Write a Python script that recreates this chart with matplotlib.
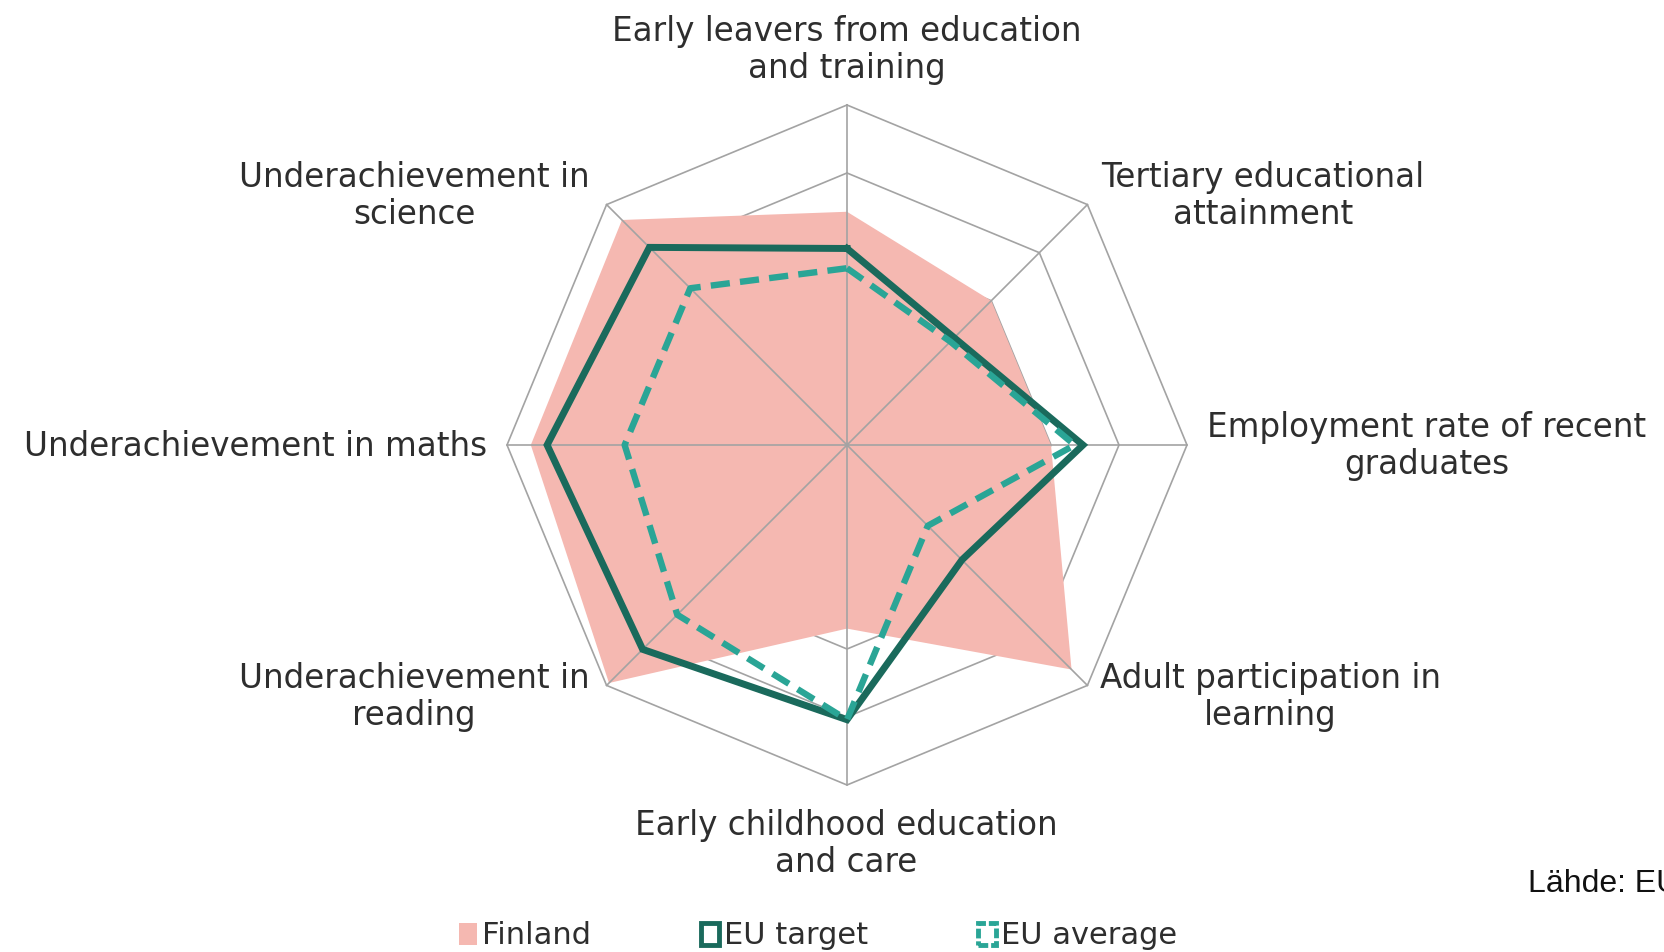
import numpy as np
import matplotlib
matplotlib.use("Agg")
import matplotlib.pyplot as plt
from matplotlib.patches import Patch

categories = [
    "Early leavers from education\nand training",
    "Tertiary educational\nattainment",
    "Employment rate of recent\ngraduates",
    "Adult participation in\nlearning",
    "Early childhood education\nand care",
    "Underachievement in\nreading",
    "Underachievement in maths",
    "Underachievement in\nscience",
]
finland = [3.43, 3.0, 3.0, 4.67, 2.7, 4.95, 4.65, 4.68]
eu_target = [2.89, 2.23, 3.47, 2.39, 4.04, 4.25, 4.41, 4.11]
eu_average = [2.6, 2.15, 3.35, 1.68, 4.04, 3.53, 3.27, 3.26]
ring_levels = [1, 2, 3, 4, 5]
series_names = ["Finland", "EU target", "EU average"]

PINK = "#F5B8B1"
DARK = "#1A6A5C"
TEAL = "#2AA596"
GRID = "#A3A3A3"

W, H = 1664, 952
fig = plt.figure(figsize=(W / 100, H / 100), dpi=100)
cx, cy, R = 847, 445, 340
ax = fig.add_axes([(cx - R) / W, (H - cy - R) / H, 2 * R / W, 2 * R / H], projection="polar")
ax.set_theta_offset(np.pi / 2)
ax.set_theta_direction(-1)
ax.set_ylim(0, 5)
ax.grid(False)
ax.spines["polar"].set_visible(False)
ax.set_xticks([])
ax.set_yticks([])
ax.patch.set_visible(False)

n = len(categories)
ang = np.arange(n) * 2 * np.pi / n
angc = np.append(ang, ang[0])

def close(v):
    return np.append(v, v[0])

# octagon rings (under the fill)
for lv in ring_levels:
    ax.plot(angc, [lv] * (n + 1), color=GRID, lw=1.2, zorder=0.5, clip_on=False)

# Finland fill
ax.fill(angc, close(finland), color=PINK, lw=0, zorder=1)

# spokes (over the fill)
for a in ang:
    ax.plot([a, a], [0, ring_levels[-1]], color=GRID, lw=1.2, zorder=2, clip_on=False)

ax.plot(angc, close(eu_target), color=DARK, lw=5, zorder=3, solid_joinstyle="miter", clip_on=False)
ax.plot(angc, close(eu_average), color=TEAL, lw=4.6, zorder=4, dashes=(3.0, 1.6), clip_on=False)

# axis labels (pixel positions of text block centers)
label_pos = [(847, 50), (1263, 196), (1427, 446), (1270, 697),
             (846, 844), (414, 697), (256, 446), (414, 196)]
for lab, (px, py) in zip(categories, label_pos):
    fig.text(px / W, 1 - py / H, lab, ha="center", va="center", fontsize=23.5,
             color="#2e2e2e", family="DejaVu Sans", linespacing=1.15)

fig.text(1528 / W, 1 - 884 / H, "Lähde: EU", ha="left", va="center", fontsize=23,
         family="Liberation Sans", color="#111111")

handles = [
    Patch(facecolor=PINK, edgecolor="none"),
    Patch(facecolor="white", edgecolor=DARK, linewidth=3.5),
    Patch(facecolor="white", edgecolor=TEAL, linewidth=3.5, linestyle=(0, (2, 0.6))),
]
fig.legend(handles, series_names, loc="center", bbox_to_anchor=(818 / W, 1 - 936 / H),
           ncol=3, frameon=False, fontsize=22, handlelength=0.6, handleheight=0.7,
           handletextpad=0.15, columnspacing=3.6, labelcolor="#2e2e2e")

fig.savefig("out.png", dpi=100)
